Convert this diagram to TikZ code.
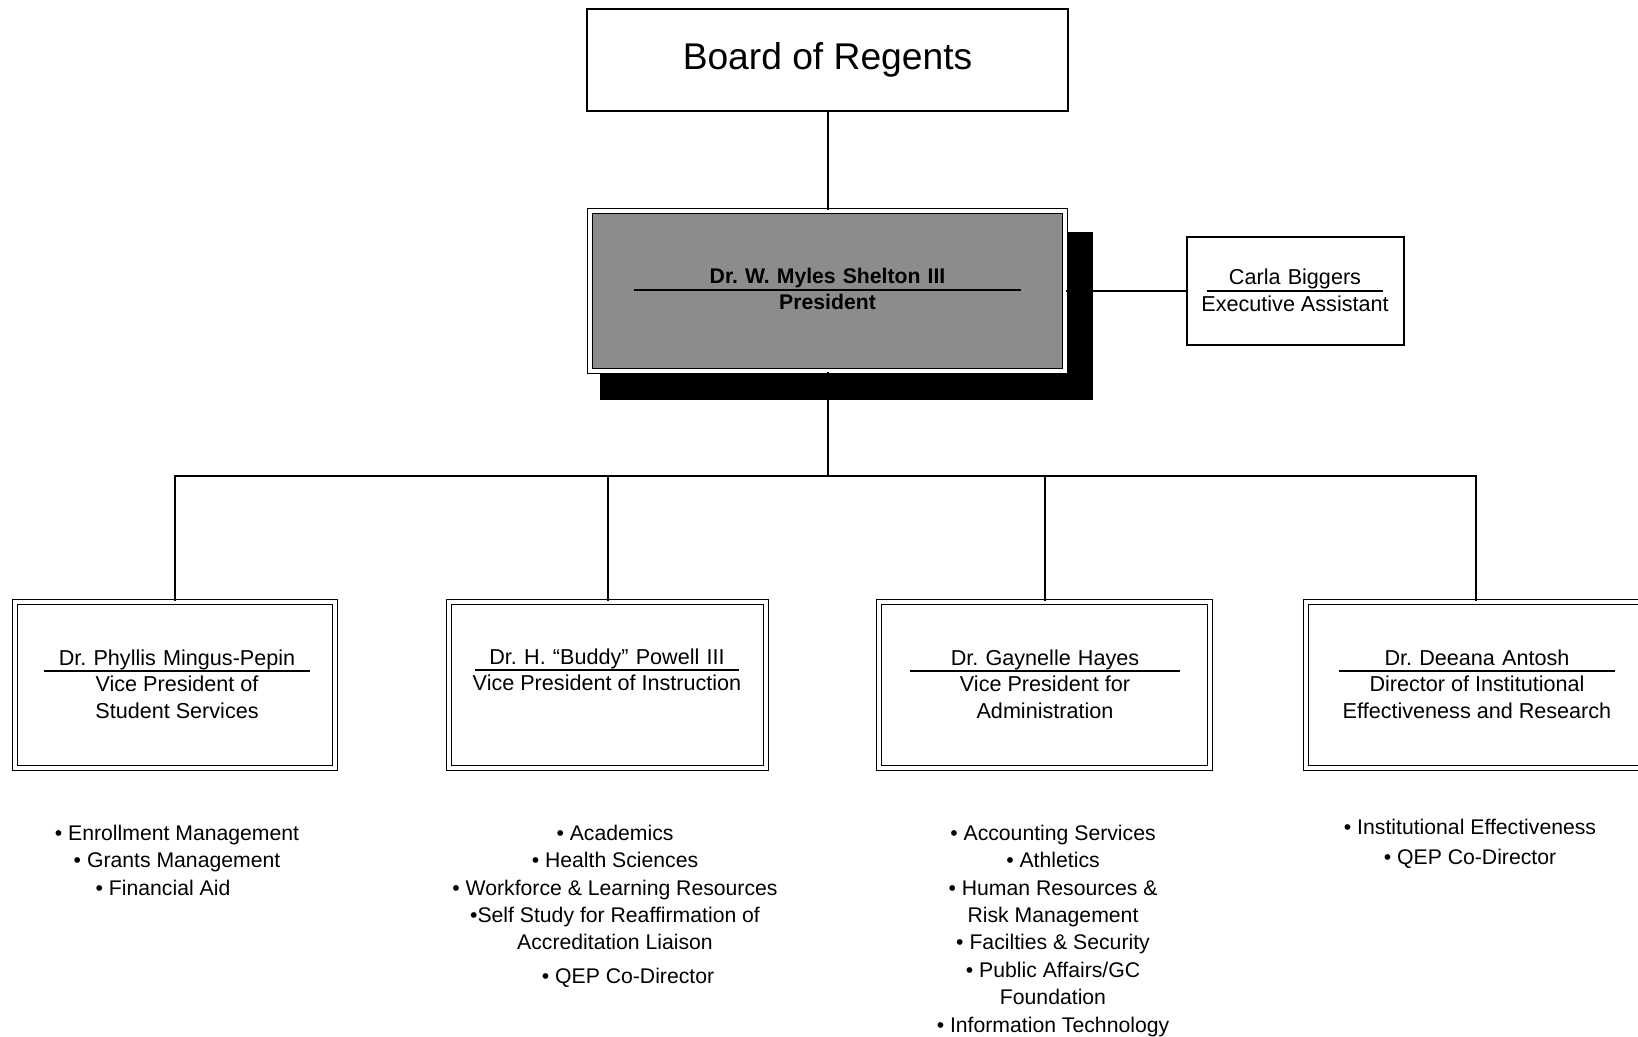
\documentclass[tikz,border=0pt]{standalone}
\usepackage{fontspec}
\setmainfont{Liberation Sans}
\usetikzlibrary{positioning}

\begin{document}
\frenchspacing
\begin{tikzpicture}[x=0.5pt, y=-0.5pt, node distance=1pt]
		\tikzstyle{plainbox}=[draw=black, line width=0.75pt, fill=white, inner sep=0pt]
		\tikzstyle{dblbox}=[draw=black, line width=0.6pt, double=white, double distance=1.8pt, fill=white, inner sep=0pt]
		\tikzstyle{person}=[font=\fontsize{10.8}{13}\selectfont, align=center, inner sep=0pt, anchor=base]
		\tikzstyle{role}=[font=\fontsize{10.8}{13.5}\selectfont, align=center, inner sep=0pt]
		\tikzstyle{duties}=[font=\fontsize{10.6}{13.7}\selectfont, align=center, inner sep=0pt]
		\tikzstyle{link}=[draw=black, line width=1pt]

		\useasboundingbox[fill=white] (0,0) rectangle (1638,1037);

		% Draw boxes
		\node[plainbox, minimum width=240.5pt, minimum height=51pt, font=\fontsize{18.6}{22}\selectfont] (regents) at (827.5,60) {Board of Regents};
		\fill[black] (600,232) rectangle (1093,400);
		\node[dblbox, fill=black!45, minimum width=237.5pt, minimum height=80pt] (president) at (827.5,291) {};
		\node[plainbox, minimum width=108.5pt, minimum height=54pt] (assistant) at (1295.5,291) {};
		\node[dblbox, minimum width=160pt, minimum height=83pt] (vp1) at (175,685) {};
		\node[dblbox, minimum width=158.5pt, minimum height=83pt] (vp2) at (607.5,685) {};
		\node[dblbox, minimum width=165.5pt, minimum height=83pt] (vp3) at (1044.5,685) {};
		\node[dblbox, minimum width=170pt, minimum height=83pt] (vp4) at (1476,685) {};
		\coordinate (bus) at (827.5,476);

		% Draw connectors
		\draw[link] (regents) -- (president);
		\draw[link] (president) -- (assistant);
		\draw[link] (president) -- (bus);
		\draw[link] (bus) -| (vp1.north);
		\draw[link] (bus) -| (vp2.north);
		\draw[link] (bus) -| (vp3.north);
		\draw[link] (bus) -| (vp4.north);

		% Names and titles
		\node[person, text width=193.5pt, font=\fontsize{10.6}{13}\selectfont\bfseries] (pname) at (827.5,284) {Dr. W. Myles Shelton III};
		\node[role, below=5pt of pname.base, font=\fontsize{10.6}{13}\selectfont\bfseries] (ptitle) {President};
		\node[person, text width=88pt] (aname) at (1295,285) {Carla Biggers};
		\node[role, below=5pt of aname.base] (atitle) {Executive Assistant};
		\node[person, text width=132.5pt] (name1) at (177,665) {Dr. Phyllis Mingus-Pepin};
		\node[role, below=5pt of name1.base] (title1) {Vice President of\\Student Services};
		\node[person, text width=131.5pt] (name2) at (607,664) {Dr. H. ``Buddy'' Powell III};
		\node[role, below=5pt of name2.base] (title2) {Vice President of Instruction};
		\node[person, text width=135pt] (name3) at (1045,665) {Dr. Gaynelle Hayes};
		\node[role, below=5pt of name3.base] (title3) {Vice President for\\Administration};
		\node[person, text width=137.5pt] (name4) at (1477,665) {Dr. Deeana Antosh};
		\node[role, below=5pt of name4.base] (title4) {Director of Institutional\\Effectiveness and Research};
		\foreach \n in {pname,aname,name1,name2,name3,name4}
			\draw[line width=0.6pt] ([yshift=-3pt]\n.base west) -- ([yshift=-3pt]\n.base east);

		% Duties under each box
		\node[duties, below=28pt of vp1, xshift=1pt] (tasks1) {• Enrollment Management\\• Grants Management\hspace*{3.5pt}\\• Financial Aid\hspace*{14pt}};
		\node[duties, below=28pt of vp2, xshift=3.75pt] (tasks2) {• Academics\\• Health Sciences\\• Workforce \& Learning Resources\\•Self Study for Reaffirmation of\\Accreditation Liaison\\[3pt]\hspace*{13pt}• QEP Co-Director};
		\node[duties, below=28pt of vp3, xshift=4.25pt] (tasks3) {• Accounting Services\\• Athletics\\• Human Resources \&\\Risk Management\\• Facilties \& Security\\• Public Affairs/GC\\Foundation\\• Information Technology};
		\node[duties, below=25pt of vp4, xshift=-3pt] (tasks4) {• Institutional Effectiveness\\[1.5pt]• QEP Co-Director};

		\end{tikzpicture}
\end{document}
